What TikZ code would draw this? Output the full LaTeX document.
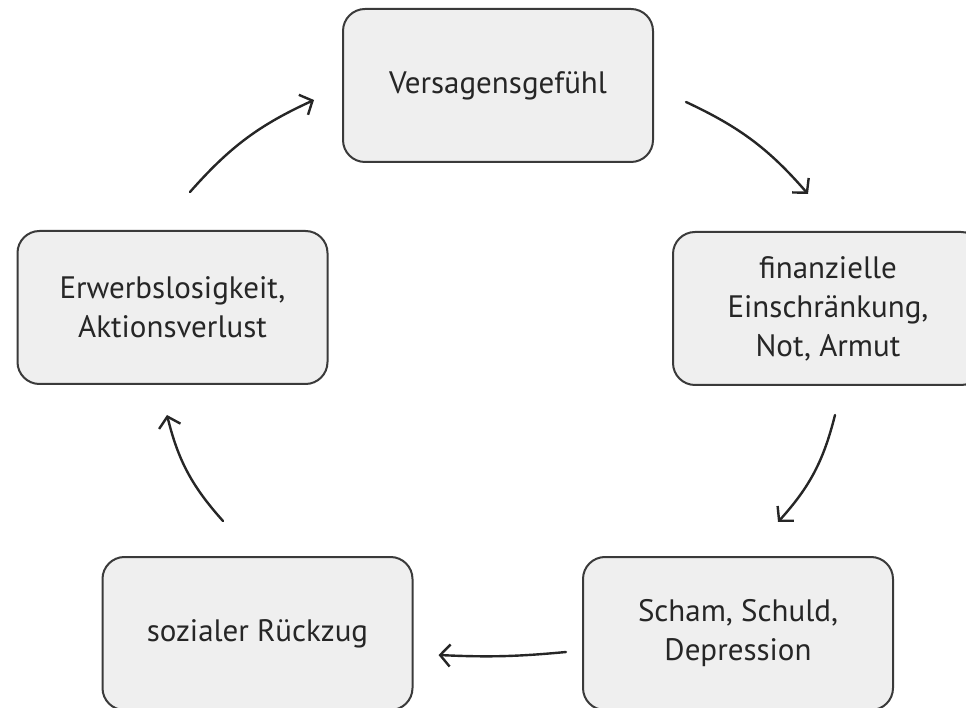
\documentclass[tikz,border=0pt]{standalone}
\usepackage{fontspec}
\setmainfont{PT Sans}
\usetikzlibrary{arrows.meta}
\definecolor{boxfill}{HTML}{EFEFEF}
\definecolor{boxline}{HTML}{3A3A3A}
\definecolor{txt}{HTML}{262626}
\tikzset{
  stage/.style={draw=boxline, line width=2pt, fill=boxfill, rounded corners=22pt,
    minimum width=310pt, minimum height=153pt, align=center, text=txt,
    font=\fontsize{31}{39}\selectfont, inner sep=0pt},
  cyc/.style={draw=black!85, line width=2.4pt, line cap=round,
    -{Straight Barb[length=10pt,width=22pt,line width=2.4pt]}}
}
\begin{document}
\begin{tikzpicture}[x=1pt,y=1pt]
\useasboundingbox (0,0) rectangle (966,707);
\clip (0,0) rectangle (966,707);
\node[stage] (A) at (498,621.5) {Versagensgefühl};
\node[stage] (B) at (828,398.5) {finanzielle\\Einschränkung,\\Not, Armut};
\node[stage] (C) at (738,73.5) {Scham, Schuld,\\Depression};
\node[stage] (D) at (257.5,73.5) {sozialer Rückzug};
\node[stage] (E) at (172.5,399.5) {Erwerbslosigkeit,\\Aktionsverlust};
\draw[cyc] ([xshift=17.5pt,yshift=38pt]E.north) to[bend left=12] ([xshift=-28pt,yshift=-14.5pt]A.west);
\draw[cyc] ([xshift=32pt,yshift=-16.5pt]A.east) to[bend left=12] ([xshift=-20pt,yshift=37pt]B.north);
\draw[cyc] ([xshift=7pt,yshift=-29pt]B.south) to[bend left=14] ([xshift=40pt,yshift=34pt]C.north);
\draw[cyc] ([xshift=-16pt,yshift=-18.5pt]C.west) to[bend left=4] ([xshift=25pt,yshift=-21.5pt]D.east);
\draw[cyc] ([xshift=-34.5pt,yshift=35pt]D.north) to[bend left=14] ([xshift=-5.5pt,yshift=-30pt]E.south);
\end{tikzpicture}
\end{document}
